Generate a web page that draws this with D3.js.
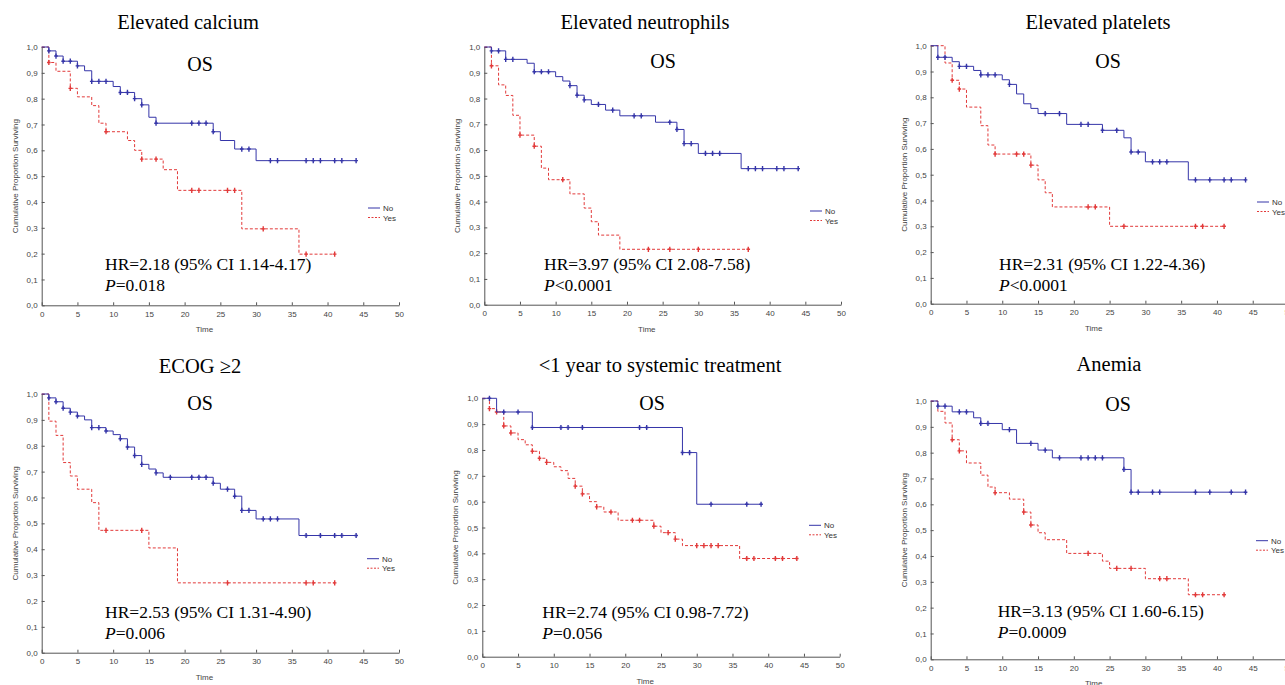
<!DOCTYPE html>
<html>
<head>
<meta charset="utf-8">
<script src="https://cdn.jsdelivr.net/npm/d3@7"></script>
<style>
  body { margin: 0; background: #fff; }
  svg { display: block; }
  .tick text { font-family: "Liberation Sans", Arial, sans-serif; font-size: 8px; fill: #444; }
  .domain, .tick line { stroke: #555; }
</style>
</head>
<body>
<svg id="chart" width="1285" height="685"></svg>
<script>
// tick values
const xTicks = [0, 5, 10, 15, 20, 25, 30, 35, 40, 45, 50];
const yTicks = [0, 0.1, 0.2, 0.3, 0.4, 0.5, 0.6, 0.7, 0.8, 0.9, 1.0];
const groups = ["No", "Yes"];

// Elevated calcium
const calciumNo = [[0,1],[1,0.985],[2,0.965],[3,0.945],[5,0.927],[6,0.908],[7,0.867],[10,0.847],[11,0.824],[13,0.80],[14,0.776],[15,0.728],[16,0.705],[24,0.672],[25,0.638],[27,0.605],[30,0.56],[44,0.56]];
const calciumNoCens = [1,2,3,4,5,7,8,9,11,12,13,14,16,21,22,23,24,28,29,32,33,37,38,39,41,42,44];
const calciumYes = [[0,1],[1,0.94],[2,0.906],[4,0.84],[5,0.807],[7,0.773],[8,0.705],[9,0.672],[12,0.638],[13,0.60],[14,0.566],[17,0.525],[19,0.445],[28,0.296],[36,0.198],[41,0.198]];
const calciumYesCens = [1,4,9,14,16,21,22,26,27,31,37,41];

// Elevated neutrophils
const neutroNo = [[0,1],[1,0.985],[3,0.952],[6,0.937],[7,0.904],[10,0.885],[11,0.868],[12,0.85],[13,0.813],[14,0.795],[15,0.777],[17,0.755],[19,0.733],[24,0.708],[27,0.68],[28,0.625],[30,0.587],[36,0.528],[44,0.528]];
const neutroNoCens = [1,2,3,4,7,8,9,12,13,14,16,18,21,22,26,27,28,29,31,32,33,37,38,39,41,42,44];
const neutroYes = [[0,1],[1,0.927],[2,0.853],[3,0.812],[4,0.735],[5,0.658],[7,0.615],[8,0.53],[9,0.485],[12,0.43],[14,0.375],[15,0.322],[16,0.27],[19,0.215],[37,0.215]];
const neutroYesCens = [1,5,7,11,23,26,30,37];

// Elevated platelets
const plateNo = [[0,1],[1,0.955],[3,0.938],[4,0.92],[6,0.904],[7,0.887],[10,0.868],[11,0.85],[12,0.813],[13,0.775],[14,0.757],[15,0.737],[19,0.695],[24,0.672],[27,0.643],[28,0.588],[30,0.55],[36,0.48],[44,0.48]];
const plateNoCens = [1,2,4,5,7,8,9,11,16,18,21,22,24,26,28,29,31,32,33,37,39,41,42,44];
const plateYes = [[0,1],[2,0.933],[3,0.866],[4,0.832],[5,0.762],[7,0.69],[8,0.615],[9,0.58],[14,0.537],[15,0.48],[16,0.43],[17,0.375],[25,0.30],[41,0.30]];
const plateYesCens = [3,4,9,12,13,14,22,23,27,37,38,41];

// ECOG >= 2
const ecogNo = [[0,1],[1,0.985],[2,0.97],[3,0.945],[4,0.93],[5,0.915],[6,0.90],[7,0.87],[9,0.857],[10,0.843],[11,0.827],[12,0.795],[13,0.762],[14,0.728],[15,0.71],[16,0.695],[17,0.678],[24,0.655],[25,0.632],[27,0.605],[28,0.55],[30,0.517],[36,0.453],[44,0.453]];
const ecogNoCens = [1,2,3,4,5,7,8,9,11,12,13,14,16,18,21,22,23,24,26,27,28,29,31,32,33,37,39,41,42,44];
const ecogYes = [[0,1],[1,0.895],[2,0.84],[3,0.735],[4,0.683],[5,0.632],[7,0.58],[8,0.473],[15,0.405],[19,0.27],[41,0.27]];
const ecogYesCens = [9,14,26,37,38,41];

// <1 year to systemic treatment
const systNo = [[0,1],[2,0.947],[7,0.887],[28,0.79],[30,0.59],[39,0.59]];
const systNoCens = [1,3,5,7,11,12,14,22,23,28,29,32,37,39];
const systYes = [[0,1],[1,0.96],[2,0.947],[3,0.893],[4,0.866],[5,0.84],[6,0.82],[7,0.795],[8,0.768],[9,0.752],[10,0.735],[11,0.72],[12,0.69],[13,0.66],[14,0.63],[15,0.6],[16,0.58],[17,0.56],[19,0.528],[24,0.505],[25,0.48],[27,0.455],[28,0.43],[36,0.38],[44,0.38]];
const systYesCens = [1,2,3,4,7,8,9,13,14,16,18,21,22,24,26,27,30,31,32,33,37,38,41,42,44];

// Anemia
const anemiaNo = [[0,1],[1,0.98],[3,0.958],[6,0.935],[7,0.913],[10,0.889],[12,0.836],[15,0.81],[17,0.78],[27,0.735],[28,0.647],[44,0.647]];
const anemiaNoCens = [1,2,4,5,7,8,11,14,16,18,21,22,23,24,27,28,29,31,32,37,39,42,44];
const anemiaYes = [[0,1],[1,0.96],[2,0.915],[3,0.85],[4,0.807],[5,0.76],[7,0.713],[8,0.667],[9,0.645],[11,0.62],[13,0.57],[14,0.52],[15,0.49],[16,0.463],[19,0.41],[24,0.38],[25,0.352],[30,0.312],[36,0.25],[41,0.25]];
const anemiaYesCens = [3,4,9,13,14,22,26,28,32,33,37,38,41];

const panels = [
  { title: "Elevated calcium", hr: "HR=2.18 (95% CI 1.14-4.17)", p: "=0.018",
    no: calciumNo, noCens: calciumNoCens, yes: calciumYes, yesCens: calciumYesCens,
    box: { l: 41.7, r: 399, t: 47, b: 305.3 }, titleX: 188, titleY: 29, osX: 200, osY: 71,
    hrX: 105, hrY: 270, legX: 368, legY: 208 },
  { title: "Elevated neutrophils", hr: "HR=3.97 (95% CI 2.08-7.58)", p: "<0.0001",
    no: neutroNo, noCens: neutroNoCens, yes: neutroYes, yesCens: neutroYesCens,
    box: { l: 484.3, r: 841, t: 47, b: 304.7 }, titleX: 645, titleY: 29, osX: 663, osY: 68,
    hrX: 544, hrY: 270, legX: 810, legY: 211 },
  { title: "Elevated platelets", hr: "HR=2.31 (95% CI 1.22-4.36)", p: "<0.0001",
    no: plateNo, noCens: plateNoCens, yes: plateYes, yesCens: plateYesCens,
    box: { l: 930.7, r: 1288.5, t: 45.7, b: 303.7 }, titleX: 1098, titleY: 29, osX: 1108, osY: 68,
    hrX: 999, hrY: 270, legX: 1257, legY: 202 },
  { title: "ECOG \u22652", hr: "HR=2.53 (95% CI 1.31-4.90)", p: "=0.006",
    no: ecogNo, noCens: ecogNoCens, yes: ecogYes, yesCens: ecogYesCens,
    box: { l: 41.7, r: 399, t: 394, b: 652.7 }, titleX: 200, titleY: 373, osX: 200, osY: 410,
    hrX: 105, hrY: 617.5, legX: 367, legY: 558.7 },
  { title: "<1 year to systemic treatment", hr: "HR=2.74 (95% CI 0.98-7.72)", p: "=0.056",
    no: systNo, noCens: systNoCens, yes: systYes, yesCens: systYesCens,
    box: { l: 482.3, r: 839.7, t: 398.3, b: 656.7 }, titleX: 660, titleY: 372, osX: 652, osY: 409.5,
    hrX: 542.3, hrY: 617.5, legX: 809, legY: 525.3 },
  { title: "Anemia", hr: "HR=3.13 (95% CI 1.60-6.15)", p: "=0.0009",
    no: anemiaNo, noCens: anemiaNoCens, yes: anemiaYes, yesCens: anemiaYesCens,
    box: { l: 930.7, r: 1288.5, t: 401, b: 659.3 }, titleX: 1109, titleY: 371, osX: 1118, osY: 411,
    hrX: 997.7, hrY: 617, legX: 1256, legY: 540.7 }
];

const colors = { No: "#3535a8", Yes: "#e23a3a" };
const serif = "'Liberation Serif', 'Times New Roman', serif";
const sans = "'Liberation Sans', Arial, sans-serif";
const fmt = d => d3.format(".1f")(d).replace(".", ",");

const svg = d3.select("#chart");

function survAt(steps, t) {
  let s = steps[0][1];
  for (const [ti, si] of steps) if (ti <= t) s = si;
  return s;
}

function drawPanel(p) {
  const g = svg.append("g");
  const x = d3.scaleLinear().domain([0, 50]).range([p.box.l, p.box.r]);
  const y = d3.scaleLinear().domain([0, 1]).range([p.box.b, p.box.t]);

  g.append("g")
    .attr("transform", `translate(0,${p.box.b})`)
    .call(d3.axisBottom(x).tickValues(xTicks).tickSizeInner(-3).tickSizeOuter(0).tickPadding(6));

  g.append("g")
    .attr("transform", `translate(${p.box.l},0)`)
    .call(d3.axisLeft(y).tickValues(yTicks).tickFormat(fmt).tickSizeInner(-3).tickSizeOuter(0).tickPadding(4));

  g.append("text")
    .attr("x", (p.box.l + x(45)) / 2 + 2).attr("y", p.box.b + 27)
    .attr("text-anchor", "middle")
    .style("font-family", sans).style("font-size", "8px").style("fill", "#444")
    .text("Time");

  g.append("text")
    .attr("transform", `translate(${p.box.l - 24},${(p.box.t + p.box.b) / 2}) rotate(-90)`)
    .attr("text-anchor", "middle")
    .style("font-family", sans).style("font-size", "8px").style("fill", "#444")
    .text("Cumulative Proportion Surviving");

  const line = d3.line().x(d => x(d[0])).y(d => y(d[1])).curve(d3.curveStepAfter);

  const series = [
    { key: "Yes", steps: p.yes, cens: p.yesCens, dash: "3,2" },
    { key: "No", steps: p.no, cens: p.noCens, dash: null }
  ];

  series.forEach(s => {
    g.append("path")
      .datum(s.steps)
      .attr("d", line)
      .attr("fill", "none")
      .attr("stroke", colors[s.key])
      .attr("stroke-width", 1)
      .attr("stroke-dasharray", s.dash);

    g.selectAll(null)
      .data(s.cens)
      .enter()
      .append("path")
      .attr("d", t => {
        const cx = x(t), cy = y(survAt(s.steps, t));
        return `M${cx},${cy - 2.6}V${cy + 2.6}M${cx - 1.8},${cy}H${cx + 1.8}`;
      })
      .attr("stroke", colors[s.key])
      .attr("stroke-width", 1.4)
      .attr("fill", "none");
  });

  // legend
  groups.forEach((k, i) => {
    const ly = p.legY + i * 9.5;
    g.append("line")
      .attr("x1", p.legX).attr("x2", p.legX + 12)
      .attr("y1", ly).attr("y2", ly)
      .attr("stroke", colors[k]).attr("stroke-width", 1)
      .attr("stroke-dasharray", k === "Yes" ? "2,1.5" : null);
    g.append("text")
      .attr("x", p.legX + 15).attr("y", ly + 3)
      .style("font-family", sans).style("font-size", "8px").style("fill", "#333")
      .text(k);
  });

  g.append("text")
    .attr("x", p.titleX).attr("y", p.titleY)
    .attr("text-anchor", "middle")
    .style("font-family", serif).style("font-size", "20.5px").style("fill", "#000")
    .text(p.title);

  g.append("text")
    .attr("x", p.osX).attr("y", p.osY)
    .attr("text-anchor", "middle")
    .style("font-family", serif).style("font-size", "20px").style("fill", "#000")
    .text("OS");

  g.append("text")
    .attr("x", p.hrX).attr("y", p.hrY)
    .style("font-family", serif).style("font-size", "17.5px").style("fill", "#000")
    .text(p.hr);

  const pt = g.append("text")
    .attr("x", p.hrX).attr("y", p.hrY + 21)
    .style("font-family", serif).style("font-size", "17.5px")
    .style("font-weight", "normal").style("fill", "#000");
  pt.append("tspan").style("font-style", "italic").style("font-weight", "normal").text("P");
  pt.append("tspan").style("font-weight", "normal").text(p.p);
}

panels.forEach(drawPanel);
</script>
</body>
</html>
